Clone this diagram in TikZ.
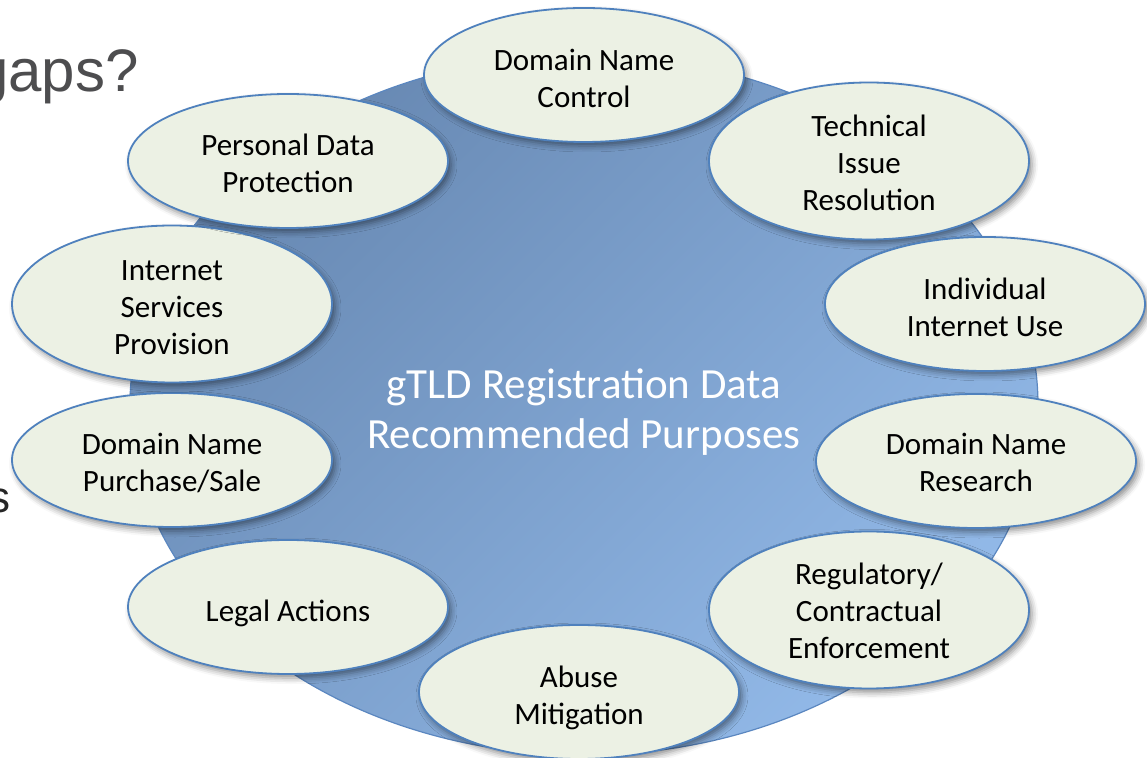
\documentclass[tikz,border=0pt]{standalone}
\usepackage{fontspec}
\setmainfont{Carlito}
\newfontfamily\hvfont{Liberation Sans}
\usetikzlibrary{shapes.geometric,shadows.blur}
\definecolor{hubtop}{HTML}{6788B2}
\definecolor{hubbot}{HTML}{92B9E8}
\definecolor{hubline}{HTML}{5B87C0}
\definecolor{petalfill}{HTML}{ECF1E4}
\definecolor{petalline}{HTML}{4F81BD}
\definecolor{titlegray}{HTML}{4D4D4F}
\newcommand{\lowtext}[2]{\raisebox{-#1}[\height][\depth]{\begin{tabular}{@{}c@{}}#2\end{tabular}}}
\tikzset{
  petal/.style={ellipse, draw=petalline, line width=0.9pt, fill=petalfill,
    minimum width=160pt, minimum height=67pt, inner sep=0pt,
    text=black, font=\fontsize{15.5}{18.5}\selectfont,
    blur shadow={shadow xshift=1.5pt, shadow yshift=-2pt, shadow blur radius=3pt, shadow opacity=45}},
  hub/.style={ellipse, draw=hubline, line width=0.6pt, top color=hubtop, bottom color=hubbot,
    shading angle=45, minimum width=454pt, minimum height=350pt, inner sep=0pt,
    text=white, font=\fontsize{21.5}{25}\selectfont},
  slidetext/.style={inner sep=0pt, font=\hvfont\fontsize{30}{36}\selectfont, text=titlegray},
  slidebody/.style={inner sep=0pt, font=\hvfont\fontsize{22}{26}\selectfont, text=black!85}
}
\begin{document}
\begin{tikzpicture}[x=0.5pt, y=-0.5pt]
\useasboundingbox (0,0) rectangle (1147,758);
\node[slidetext, anchor=base east] (gaps) at (139,92) {gaps?};
\node[slidebody, anchor=base east] (tail) at (11,513) {s};
\node[hub] (hub) at (584,405) {\lowtext{4.5pt}{gTLD Registration Data\\Recommended Purposes}};
\node[petal] (dnc) at (584,75)  {\lowtext{3.5pt}{Domain Name\\Control}};
\node[petal] (tir) at (869,161) {\lowtext{2.5pt}{Technical\\Issue\\Resolution}};
\node[petal] (iiu) at (985,304) {\lowtext{3.5pt}{Individual\\Internet Use}};
\node[petal] (dnr) at (976,461) {\lowtext{2.25pt}{Domain Name\\Research}};
\node[petal] (rce) at (869,610) {\lowtext{2pt}{Regulatory/\\Contractual\\Enforcement}};
\node[petal] (abm) at (579,692) {\lowtext{3.25pt}{Abuse\\Mitigation}};
\node[petal] (leg) at (288,607) {\lowtext{3.5pt}{Legal Actions}};
\node[petal] (dnp) at (172,460) {\lowtext{2.75pt}{Domain Name\\Purchase/Sale}};
\node[petal] (isp) at (172,304) {\lowtext{3pt}{Internet\\Services\\Provision}};
\node[petal] (pdp) at (288,161) {\lowtext{3pt}{Personal Data\\Protection}};
\end{tikzpicture}
\end{document}
